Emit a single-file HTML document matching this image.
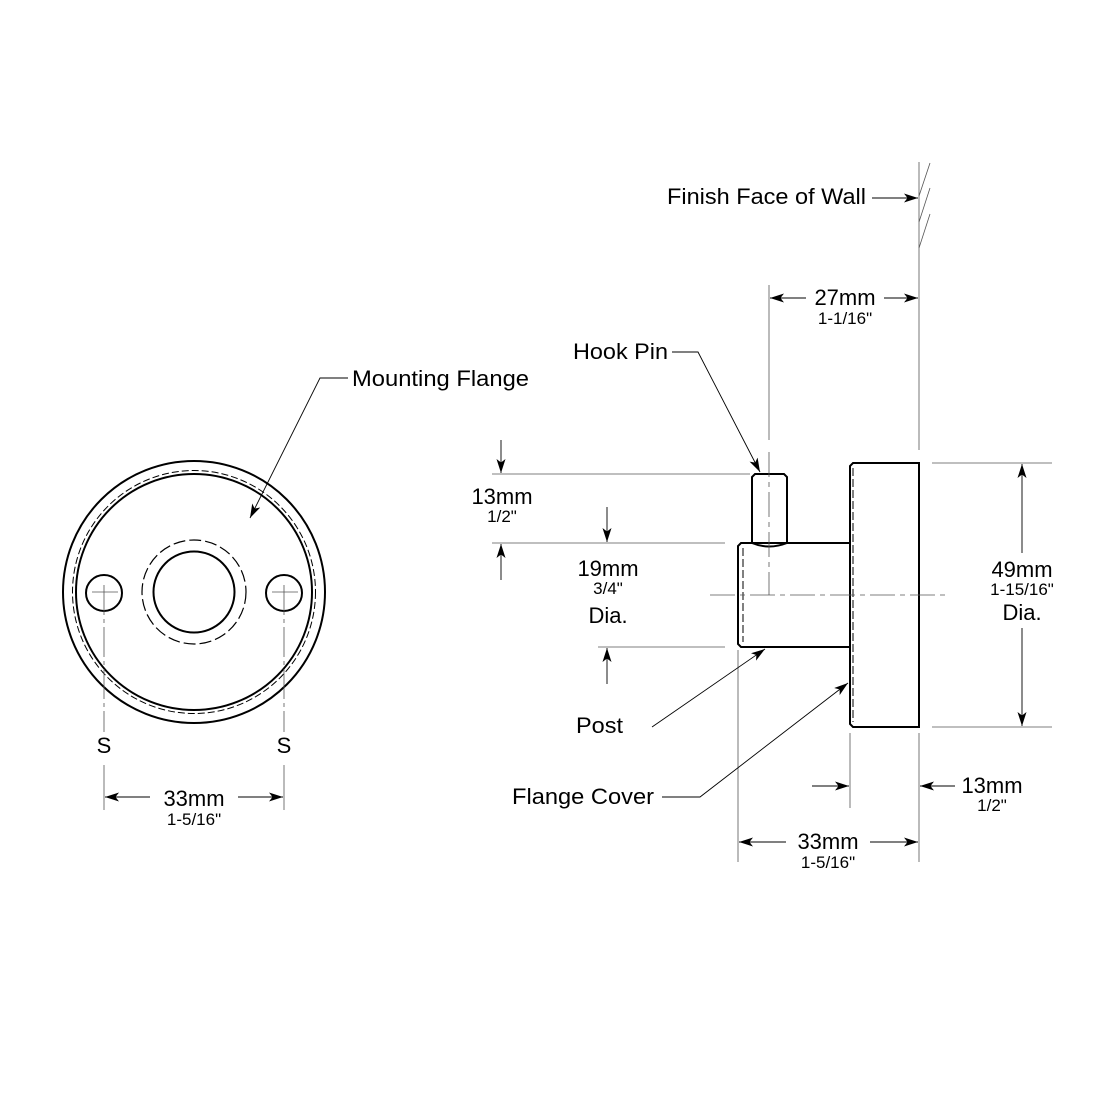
<!DOCTYPE html>
<html><head><style>
html,body{margin:0;padding:0;background:#fff}
svg{display:block}
text{font-family:"Liberation Sans",Arial,sans-serif;fill:#000}
.m{font-size:22px}.s{font-size:17px}
</style></head><body>
<svg width="1100" height="1100" viewBox="0 0 1100 1100" xmlns="http://www.w3.org/2000/svg">
<defs>
<marker id="a" viewBox="0 0 14 9" refX="14" refY="4.5" markerWidth="14" markerHeight="9" orient="auto" markerUnits="userSpaceOnUse">
<path d="M0,0 L14,4.5 L0,9 L3.5,4.5 Z" fill="#000"/></marker>
</defs>
<g fill="none" stroke="#000">
<circle cx="194" cy="592" r="131" stroke-width="2"/>
<circle cx="194" cy="592" r="118" stroke-width="2"/>
<circle cx="194" cy="592" r="121.5" stroke-width="1" stroke-dasharray="7,3"/>
<circle cx="194" cy="592" r="40.5" stroke-width="2"/>
<circle cx="194" cy="592" r="52" stroke-width="1.2" stroke-dasharray="12,4"/>
<circle cx="104" cy="593" r="18" stroke-width="2"/>
<circle cx="284" cy="593" r="18" stroke-width="2"/>
<g stroke-width="0.8" stroke="#555">
<line x1="92" y1="592" x2="118" y2="592"/><line x1="272" y1="592" x2="298" y2="592"/>
<line x1="104" y1="585" x2="104" y2="732" stroke-dasharray="30,4,4,4"/>
<line x1="284" y1="585" x2="284" y2="732" stroke-dasharray="30,4,4,4"/>
<line x1="104" y1="765" x2="104" y2="810"/><line x1="284" y1="765" x2="284" y2="810"/>
</g>
<g stroke-width="0.9">
<line x1="150" y1="797" x2="105" y2="797" marker-end="url(#a)"/>
<line x1="238" y1="797" x2="283" y2="797" marker-end="url(#a)"/>
<polyline points="348,378 320,378 250,518" marker-end="url(#a)"/>
</g>
<path d="M755,474 L784,474 L787,477 L787,543 Q769,550 752,543 L752,477 Z" stroke-width="2"/>
<path d="M741,543 L850,543 L850,647 L741,647 L738,644 L738,546 Z" stroke-width="2"/>
<path d="M853,463 L919,463 L919,727 L853,727 L850,724 L850,466 Z" stroke-width="2"/>
<line x1="743" y1="548" x2="743" y2="642" stroke-width="1" stroke-dasharray="8,3"/>
<line x1="853" y1="468" x2="853" y2="722" stroke-width="1" stroke-dasharray="8,3"/>
<g stroke-width="0.8" stroke="#555">
<line x1="710" y1="595" x2="945" y2="595" stroke-dasharray="25,5,5,5"/>
<line x1="769" y1="452" x2="769" y2="595" stroke-dasharray="25,5,5,5"/>
<line x1="769" y1="285" x2="769" y2="440"/>
<line x1="919" y1="162" x2="919" y2="450"/>
<line x1="919" y1="196" x2="930" y2="163"/><line x1="919" y1="222" x2="930" y2="188"/><line x1="919" y1="248" x2="930" y2="214"/>
<line x1="492" y1="474" x2="750" y2="474"/>
<line x1="492" y1="543" x2="725" y2="543"/>
<line x1="598" y1="647" x2="725" y2="647"/>
<line x1="932" y1="463" x2="1052" y2="463"/>
<line x1="932" y1="727" x2="1052" y2="727"/>
<line x1="738" y1="650" x2="738" y2="862"/>
<line x1="850" y1="733" x2="850" y2="808"/>
<line x1="919" y1="733" x2="919" y2="862"/>
</g>
<g stroke-width="0.9">
<line x1="872" y1="198" x2="918" y2="198" marker-end="url(#a)"/>
<line x1="806" y1="298" x2="770" y2="298" marker-end="url(#a)"/>
<line x1="884" y1="298" x2="918" y2="298" marker-end="url(#a)"/>
<line x1="501" y1="440" x2="501" y2="473" marker-end="url(#a)"/>
<line x1="501" y1="580" x2="501" y2="544" marker-end="url(#a)"/>
<line x1="607" y1="507" x2="607" y2="542" marker-end="url(#a)"/>
<line x1="607" y1="684" x2="607" y2="648" marker-end="url(#a)"/>
<line x1="1022" y1="553" x2="1022" y2="464" marker-end="url(#a)"/>
<line x1="1022" y1="628" x2="1022" y2="726" marker-end="url(#a)"/>
<line x1="812" y1="786" x2="849" y2="786" marker-end="url(#a)"/>
<line x1="955" y1="786" x2="920" y2="786" marker-end="url(#a)"/>
<line x1="786" y1="842" x2="739" y2="842" marker-end="url(#a)"/>
<line x1="870" y1="842" x2="918" y2="842" marker-end="url(#a)"/>
<polyline points="672,352 698,352 760,472" marker-end="url(#a)"/>
<polyline points="652,727 765,649" marker-end="url(#a)"/>
<polyline points="662,797 700,797 848,683" marker-end="url(#a)"/>
</g>
</g>
<text class="m" x="352" y="386" textLength="177" lengthAdjust="spacingAndGlyphs">Mounting Flange</text>
<text class="m" x="104" y="753" text-anchor="middle">S</text>
<text class="m" x="284" y="753" text-anchor="middle">S</text>
<text class="m" x="194" y="806" text-anchor="middle">33mm</text>
<text class="s" x="194" y="825" text-anchor="middle">1-5/16"</text>
<text class="m" x="667" y="204" textLength="199" lengthAdjust="spacingAndGlyphs">Finish Face of Wall</text>
<text class="m" x="845" y="305" text-anchor="middle">27mm</text>
<text class="s" x="845" y="324" text-anchor="middle">1-1/16"</text>
<text class="m" x="573" y="359" textLength="95" lengthAdjust="spacingAndGlyphs">Hook Pin</text>
<text class="m" x="502" y="504" text-anchor="middle">13mm</text>
<text class="s" x="502" y="522" text-anchor="middle">1/2"</text>
<text class="m" x="608" y="576" text-anchor="middle">19mm</text>
<text class="s" x="608" y="594" text-anchor="middle">3/4"</text>
<text class="m" x="608" y="623" text-anchor="middle">Dia.</text>
<text class="m" x="1022" y="577" text-anchor="middle">49mm</text>
<text class="s" x="1022" y="595" text-anchor="middle">1-15/16"</text>
<text class="m" x="1022" y="620" text-anchor="middle">Dia.</text>
<text class="m" x="576" y="733" textLength="47" lengthAdjust="spacingAndGlyphs">Post</text>
<text class="m" x="512" y="804" textLength="142" lengthAdjust="spacingAndGlyphs">Flange Cover</text>
<text class="m" x="992" y="793" text-anchor="middle">13mm</text>
<text class="s" x="992" y="811" text-anchor="middle">1/2"</text>
<text class="m" x="828" y="849" text-anchor="middle">33mm</text>
<text class="s" x="828" y="868" text-anchor="middle">1-5/16"</text>
</svg>
</body></html>
